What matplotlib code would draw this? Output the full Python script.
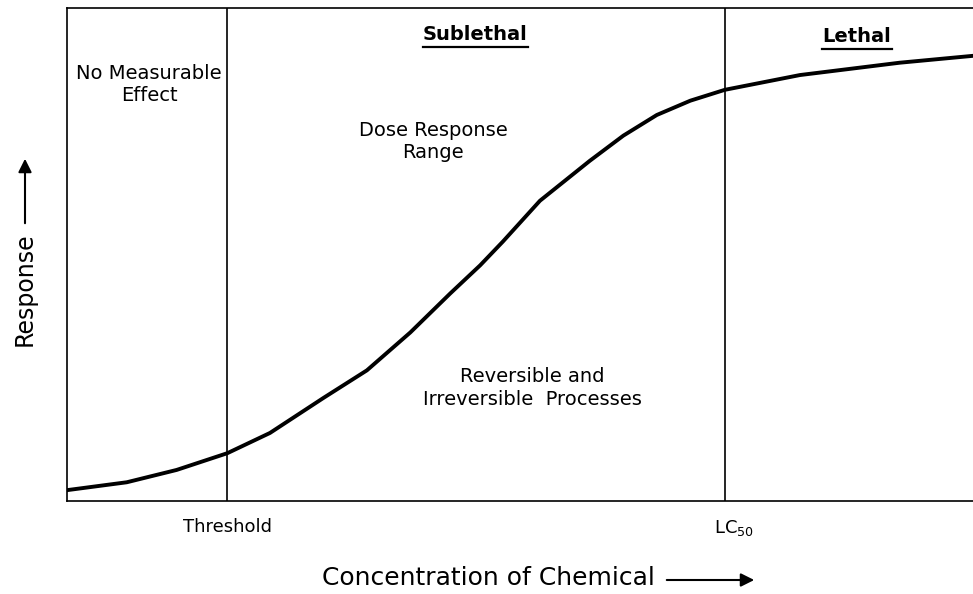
import numpy as np
import matplotlib.pyplot as plt

# dose-response curve (x: concentration, y: response, both 0-100)
conc = [0, 6.6, 12.1, 17.7, 22.4, 28.3, 33.1, 37.9, 42.3, 45.6, 48.1, 52.2,
        57.7, 61.4, 65.1, 68.8, 72.6, 80.9, 91.9, 100]
response = [2.2, 3.8, 6.3, 9.7, 13.8, 20.9, 26.5, 34.2, 42.1, 47.8, 52.6, 60.9,
            69.0, 74.1, 78.3, 81.2, 83.4, 86.4, 88.9, 90.3]

threshold_x = 17.7
lc50_x = 72.6
tick_pos = [threshold_x, lc50_x + 1.0]
tick_labels = ["Threshold", r"LC$_{\mathregular{50}}$"]

plt.rcParams['font.family'] = ['DejaVu Sans']

fig = plt.figure(figsize=(9.73, 5.94), dpi=100)
W, H = 973, 594
ax = fig.add_axes([67 / W, 1 - 501 / H, (W - 67) / W, (501 - 8) / H])

ax.plot(conc, response, color='black', linewidth=2.8, solid_capstyle='round', solid_joinstyle='round')
ax.axvline(threshold_x, color='black', linewidth=1.2)
ax.axvline(lc50_x, color='black', linewidth=1.2)

ax.set_xlim(0, 100)
ax.set_ylim(0, 100)
ax.spines['right'].set_visible(False)
for s in ['left', 'top', 'bottom']:
    ax.spines[s].set_linewidth(1.2)
ax.set_yticks([])
ax.set_xticks(tick_pos)
ax.set_xticklabels(tick_labels, fontsize=13)
ax.tick_params(axis='x', length=0, pad=12)

# region labels
ax.text(9.05, 84.5, "No Measurable\nEffect", ha='center', va='center', fontsize=14, linespacing=1.25)
ax.text(45.0, 94.7, "Sublethal", ha='center', va='center', fontsize=14, fontweight='bold')
ax.plot([39.3, 50.9], [92.0, 92.0], color='black', linewidth=1.6)
ax.text(87.2, 94.3, "Lethal", ha='center', va='center', fontsize=14, fontweight='bold')
ax.plot([83.3, 91.1], [91.6, 91.6], color='black', linewidth=1.6)
ax.text(40.4, 72.9, "Dose Response\nRange", ha='center', va='center', fontsize=14, linespacing=1.25)
ax.text(51.4, 22.9, "Reversible and\nIrreversible  Processes", ha='center', va='center', fontsize=14, linespacing=1.25)

# axis labels with arrows
fig.text(488 / W, 1 - 578 / H, "Concentration of Chemical", ha='center', va='center', fontsize=18)
ax.annotate("", xy=(757 / W, 1 - 580 / H), xytext=(664 / W, 1 - 580 / H), xycoords='figure fraction',
            arrowprops=dict(arrowstyle='-|>', color='black', lw=1.5, mutation_scale=20))
fig.text(25 / W, 1 - 289 / H, "Response", ha='center', va='center', fontsize=17, rotation=90)
ax.annotate("", xy=(25 / W, 1 - 156 / H), xytext=(25 / W, 1 - 226 / H), xycoords='figure fraction',
            arrowprops=dict(arrowstyle='-|>', color='black', lw=1.5, mutation_scale=20))

fig.savefig("out.png", dpi=100)
